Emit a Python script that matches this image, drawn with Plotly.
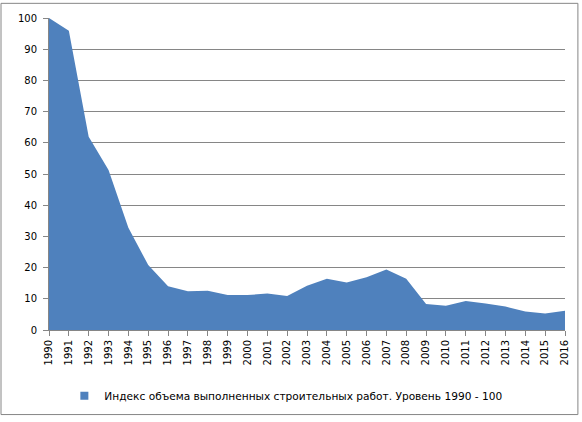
import plotly.graph_objects as go

# ---------------- data ----------------
years = [str(y) for y in range(1990, 2017)]
index_values = [100, 95.9, 61.9, 51.3, 32.8, 20.8, 14.0, 12.4, 12.6, 11.2,
                11.2, 11.7, 10.9, 14.2, 16.4, 15.2, 16.9, 19.4, 16.4, 8.3,
                7.8, 9.3, 8.5, 7.5, 5.9, 5.3, 6.2]
series_name = "Индекс объема выполненных строительных работ. Уровень 1990 - 100"

fill_color = "#4F81BD"
grid_color = "#868686"

fig = go.Figure()

# area itself
fig.add_trace(go.Scatter(
    x=years, y=index_values, mode="lines", fill="tozeroy",
    fillcolor=fill_color, line=dict(color=fill_color, width=0),
    showlegend=False, hoverinfo="x+y",
))
# legend entry with a square swatch, like Excel
fig.add_trace(go.Scatter(
    x=[None], y=[None], mode="markers", name=series_name,
    marker=dict(symbol="square", size=8, color=fill_color),
))

fig.update_layout(
    width=582, height=422,
    margin=dict(l=49, r=17, t=16, b=89),
    paper_bgcolor="white", plot_bgcolor="white",
    font=dict(family="DejaVu Sans, Verdana, sans-serif", size=10, color="#000"),
    legend=dict(orientation="h", x=0.46, xanchor="center",
                y=-0.211, yanchor="middle", font=dict(size=10.6),
                itemwidth=30, tracegroupgap=0),
    xaxis=dict(type="category", range=[0, len(years) - 1],
               tickangle=-90, ticks="outside", ticklen=5,
               tickcolor=grid_color, showline=True, linecolor=grid_color,
               showgrid=False, zeroline=False),
    yaxis=dict(range=[0, 100], dtick=10, showgrid=True,
               gridcolor=grid_color, gridwidth=1,
               showline=True, linecolor=grid_color, zeroline=False,
               ticks="outside", ticklen=5, tickcolor=grid_color,
               ticklabelstandoff=4),
    shapes=[dict(type="rect", xref="paper", yref="paper",
                 x0=-0.093, x1=1.025, y0=-0.271, y1=1.047,
                 line=dict(color=grid_color, width=1), layer="below")],
)

# drop the browser's default page margin so the chart sits at (0, 0)
fig.write_html("out.html", config={"displayModeBar": False},
               post_script="document.body.style.margin='0';")
